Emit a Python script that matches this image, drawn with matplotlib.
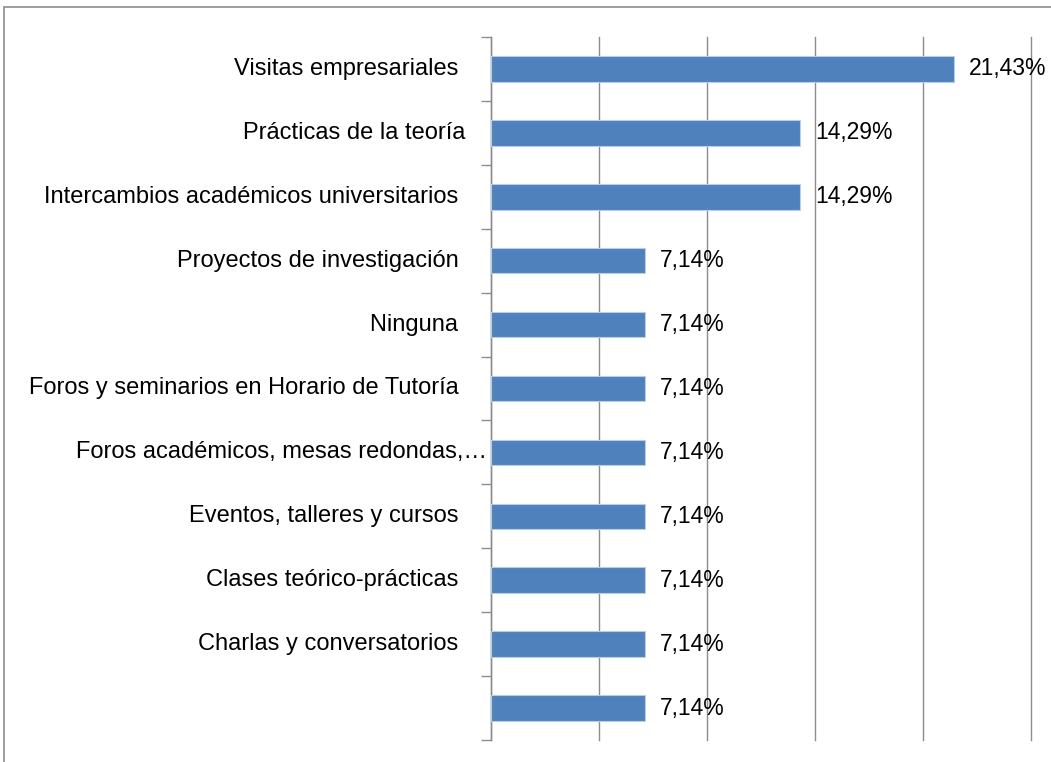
import matplotlib.pyplot as plt
from matplotlib.patches import Rectangle

categorias = [
    "Visitas empresariales ",
    "Prácticas de la teoría",
    "Intercambios académicos universitarios ",
    "Proyectos de investigación ",
    "Ninguna ",
    "Foros y seminarios en Horario de Tutoría ",
    "Foros académicos, mesas redondas,…",
    "Eventos, talleres y cursos ",
    "Clases teórico-prácticas ",
    "Charlas y conversatorios ",
    "",
]
valores = [21.43, 14.29, 14.29, 7.14, 7.14, 7.14, 7.14, 7.14, 7.14, 7.14, 7.14]
etiquetas = ["21,43%", "14,29%", "14,29%"] + ["7,14%"] * 8

plt.rcParams['font.family'] = ['Liberation Sans', 'DejaVu Sans']

fig = plt.figure(figsize=(10.51, 7.62), dpi=100)
# chart frame (cut at right/bottom like the reference)
fig.patches.append(Rectangle((4 / 1051, -0.1), 1.2, 1 - 7 / 762 + 0.1,
                             transform=fig.transFigure, fill=False,
                             edgecolor="#8c8c8c", linewidth=1.2))

ax = fig.add_axes([491 / 1051, 1 - 740 / 762, 540 / 1051, 703 / 762])

n = len(categorias)
ys = list(range(n))
ax.barh(ys, valores, height=0.4, color="#4F81BD", edgecolor="#B9CDE5",
        linewidth=0.8, zorder=3)

ax.set_xlim(0, 25)
ax.set_ylim(n - 0.5, -0.5)
ax.set_xticks([0, 5, 10, 15, 20, 25])
ax.set_xticklabels([])
ax.tick_params(axis="x", length=0)
ax.grid(axis="x", color="#8c8c8c", linewidth=1, zorder=0)
for gl in ax.xaxis.get_gridlines():
    gl.set_clip_on(False)

ax.set_yticks([i - 0.5 for i in range(n + 1)])
ax.set_yticklabels([])
ax.tick_params(axis="y", length=7, color="#8c8c8c", width=1)
for y, txt in zip(ys, categorias):
    # truncated label sits right against the axis, as in Excel
    off = -0.2 if txt.endswith("…") else -1.2
    ax.text(off, y, txt, ha="right", va="center", fontsize=17, color="black")

for y, v, lab in zip(ys, valores, etiquetas):
    ax.text(v + 0.7, y, lab, ha="left", va="center", fontsize=16.5,
            color="black", zorder=5)

for s in ["top", "right", "bottom"]:
    ax.spines[s].set_visible(False)
ax.spines["left"].set_color("#8c8c8c")
ax.spines["left"].set_linewidth(1)

fig.savefig("out.png", dpi=100)
